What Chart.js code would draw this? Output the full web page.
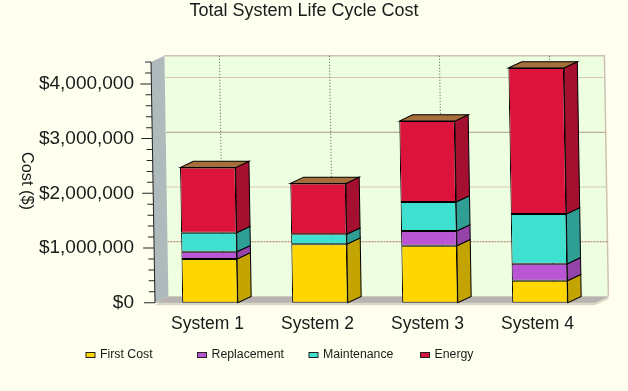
<!DOCTYPE html>
<html>
<head>
<meta charset="utf-8">
<title>Total System Life Cycle Cost</title>
<script src="https://cdn.jsdelivr.net/npm/chart.js@4/dist/chart.umd.min.js"></script>
<style>
    html, body { margin: 0; padding: 0; background: #FFFFF0; }
    canvas { display: block; }
</style>
</head>
<body>
<canvas id="costChart" width="628" height="391"></canvas>
<script>
// Chart data
const categories = ['System 1', 'System 2', 'System 3', 'System 4'];
const firstCost = [800000, 1070000, 1040000, 400000];
const replacement = [130000, 0, 270000, 310000];
const maintenance = [350000, 180000, 530000, 910000];
const energy = [1190000, 930000, 1480000, 2670000];

const FONT = '"Liberation Sans", Arial, sans-serif';
const TEXT = '#1A1A1A';
const DEPTH_X = 13.5;
const DEPTH_Y = 6.3;
const SHEAR = 0.0165; // the whole plot leans a little in the original

const sideColors = ['#C4A400', '#9443A8', '#2F9F96', '#A50F30'];
const gridColors = { 1000000: '#A9745C', 2000000: '#D8C8B2', 3000000: '#A79B84', 4000000: '#D8C8B2' };

function polygon(ctx, pts, fill, stroke) {
    ctx.beginPath();
    pts.forEach((p, i) => i ? ctx.lineTo(p[0], p[1]) : ctx.moveTo(p[0], p[1]));
    ctx.closePath();
    if (fill) { ctx.fillStyle = fill; ctx.fill(); }
    if (stroke) { ctx.strokeStyle = stroke; ctx.lineWidth = 1; ctx.stroke(); }
}

// Back wall, side wall, floor and the 3D faces of the bars
const depthPlugin = {
    id: 'depth',
    beforeDatasetsDraw(chart) {
        const { ctx, chartArea: a, scales: { x, y } } = chart;
        ctx.save();
        ctx.transform(1, 0, SHEAR, 1, -SHEAR * a.bottom, 0);

        const bx = DEPTH_X, by = DEPTH_Y;
        polygon(ctx, [[a.left + bx, a.top - by], [a.right + bx, a.top - by], [a.right + bx, a.bottom - by], [a.left + bx, a.bottom - by]], '#EEFEE0');
        ctx.strokeStyle = '#CFC2AE';
        ctx.lineWidth = 1.5;
        ctx.beginPath();
        ctx.moveTo(a.left + bx, a.top - by);
        ctx.lineTo(a.right + bx, a.top - by);
        ctx.lineTo(a.right + bx, a.bottom - by);
        ctx.stroke();

        // Grid lines on the back wall
        y.ticks.forEach(t => {
            const color = gridColors[t.value];
            if (!color) return;
            const py = y.getPixelForValue(t.value) - by;
            ctx.strokeStyle = color;
            ctx.lineWidth = 1;
            ctx.setLineDash(t.value === 1000000 ? [2, 1] : []);
            ctx.beginPath();
            ctx.moveTo(a.left + bx, py);
            ctx.lineTo(a.right + bx, py);
            ctx.stroke();
        });

        // Dotted lines behind the bars
        ctx.strokeStyle = '#4A5A48';
        ctx.setLineDash([1, 2]);
        categories.forEach((c, i) => {
            const px = x.getPixelForValue(i) + bx;
            ctx.beginPath();
            ctx.moveTo(px, a.top - by);
            ctx.lineTo(px, a.bottom - by);
            ctx.stroke();
        });
        ctx.setLineDash([]);

        // Side wall and floor
        polygon(ctx, [[a.left, a.top], [a.left + bx, a.top - by], [a.left + bx, a.bottom - by], [a.left, a.bottom]], '#AEBABB');
        polygon(ctx, [[a.left, a.bottom + 2.5], [a.right, a.bottom + 2.5], [a.right + bx, a.bottom - by + 2.5], [a.right + bx, a.bottom - by], [a.left + bx, a.bottom - by]], '#D8D8C6');
        polygon(ctx, [[a.left, a.bottom], [a.left + bx, a.bottom - by], [a.right + bx, a.bottom - by], [a.right, a.bottom]], '#B9B3B0');

        // Bar sides and top caps
        chart.data.datasets.forEach((ds, d) => {
            chart.getDatasetMeta(d).data.forEach((bar, i) => {
                if (!ds.data[i]) return;
                const right = bar.x + bar.width / 2;
                polygon(ctx, [[right, bar.y], [right + bx, bar.y - by], [right + bx, bar.base - by], [right, bar.base]], sideColors[d], '#000');
                if (d === chart.data.datasets.length - 1) {
                    const left = bar.x - bar.width / 2;
                    polygon(ctx, [[left, bar.y], [left + bx, bar.y - by], [right + bx, bar.y - by], [right, bar.y]], '#A56E3A', '#000');
                }
            });
        });
    },
    afterDatasetsDraw(chart) {
        const { ctx, chartArea: a, scales: { y } } = chart;
        // Axis line and tick marks, still in the leaning space
        ctx.strokeStyle = '#222';
        ctx.lineWidth = 1;
        ctx.beginPath();
        ctx.moveTo(a.left, a.top);
        ctx.lineTo(a.left, a.bottom);
        y.ticks.forEach(t => {
            const py = y.getPixelForValue(t.value);
            const len = t.value % 1000000 === 0 ? 11 : 6;
            ctx.moveTo(a.left - len, py);
            ctx.lineTo(a.left, py);
        });
        ctx.stroke();
        ctx.restore();

        // Axis title reads top to bottom, which the scale title cannot do on a left axis
        ctx.save();
        ctx.translate(26, 181);
        ctx.rotate(Math.PI / 2);
        ctx.fillStyle = TEXT;
        ctx.font = '16.3px ' + FONT;
        ctx.textAlign = 'center';
        ctx.textBaseline = 'middle';
        ctx.fillText('Cost ($)', 0, 0);
        ctx.restore();

        // Legend, evenly spaced swatches
        chart.data.datasets.forEach((ds, i) => {
            const lx = 86 + i * 111.5;
            ctx.fillStyle = ds.backgroundColor;
            ctx.strokeStyle = '#222';
            ctx.lineWidth = 1;
            ctx.fillRect(lx, 352.5, 9, 5);
            ctx.strokeRect(lx, 352.5, 9, 5);
            ctx.fillStyle = TEXT;
            ctx.font = '12.3px ' + FONT;
            ctx.textAlign = 'left';
            ctx.textBaseline = 'middle';
            ctx.fillText(ds.label, lx + 14, 355);
        });
    }
};

new Chart(document.getElementById('costChart').getContext('2d'), {
    type: 'bar',
    data: {
        labels: categories,
        datasets: [
            { label: 'First Cost', data: firstCost, backgroundColor: '#FFD700' },
            { label: 'Replacement', data: replacement, backgroundColor: '#BA55D3' },
            { label: 'Maintenance', data: maintenance, backgroundColor: '#40E0D0' },
            { label: 'Energy', data: energy, backgroundColor: '#DC143C' }
        ].map(ds => ({ ...ds, borderColor: '#000', borderWidth: 1, borderSkipped: false, categoryPercentage: 1, barPercentage: 0.505 }))
    },
    options: {
        responsive: false,
        animation: false,
        layout: { autoPadding: false, padding: { left: 13, right: 33, top: 0, bottom: 0 } },
        plugins: {
            legend: { display: false },
            tooltip: { enabled: false },
            title: {
                display: true,
                text: 'Total System Life Cycle Cost',
                color: TEXT,
                font: { family: FONT, size: 18, weight: 'normal' },
                padding: { top: 0, bottom: 40.4 }
            }
        },
        scales: {
            x: {
                stacked: true,
                grid: { display: false, drawTicks: false },
                border: { display: false },
                ticks: { color: TEXT, padding: 11, labelOffset: -2.5, font: { family: FONT, size: 17.5 } },
                afterFit: s => { s.height = 88.3; }
            },
            y: {
                stacked: true,
                min: 0,
                max: 4400000,
                grid: { display: false, drawTicks: false },
                border: { display: false },
                ticks: {
                    stepSize: 200000,
                    autoSkip: false,
                    color: TEXT,
                    padding: 21,
                    font: { family: FONT, size: 19 },
                    callback: v => v % 1000000 === 0 ? '$' + v.toLocaleString('en-US') : ''
                },
                afterFit: s => { s.width = 142; }
            }
        }
    },
    plugins: [depthPlugin]
});
</script>
</body>
</html>
